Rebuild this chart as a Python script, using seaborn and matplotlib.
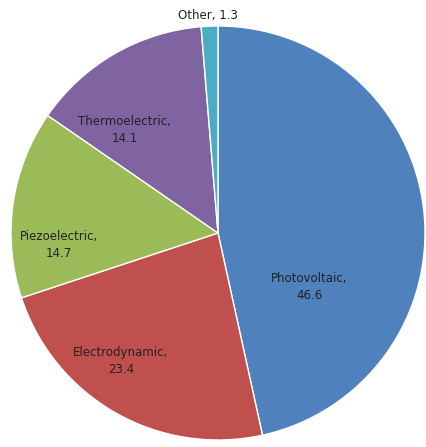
import seaborn as sns
import matplotlib.pyplot as plt

sns.set_style("white")

sources = ["Photovoltaic", "Electrodynamic", "Piezoelectric", "Thermoelectric", "Other"]
shares = [46.6, 23.4, 14.7, 14.1, 1.3]
colors = ["#4F81BD", "#C0504D", "#9BBB59", "#8064A2", "#4BACC6"]
# label anchor points (pie radius = 1), like Excel's "best fit" placement
label_pos = [(0.44, -0.26), (-0.47, -0.62), (-0.77, -0.06), (-0.45, 0.50), (-0.05, 1.05)]

fig = plt.figure(figsize=(4.27, 4.47), dpi=100)
ax = fig.add_axes([11 / 427, 7 / 447, 414 / 427, 414 / 447])

wedges, _ = ax.pie(shares, colors=colors, startangle=90, counterclock=False,
                   wedgeprops=dict(edgecolor="white", linewidth=1))

for name, val, (x, y) in zip(sources, shares, label_pos):
    txt = f"{name}, {val}" if name == "Other" else f"{name},\n{val}"
    ax.text(x, y, txt, ha="center", va="center", fontsize=8.5, color="#222222",
            linespacing=1.4)

ax.set_xlim(-1, 1)
ax.set_ylim(-1, 1)
ax.set_aspect("equal")
ax.axis("off")

fig.savefig("out.png", dpi=100)
